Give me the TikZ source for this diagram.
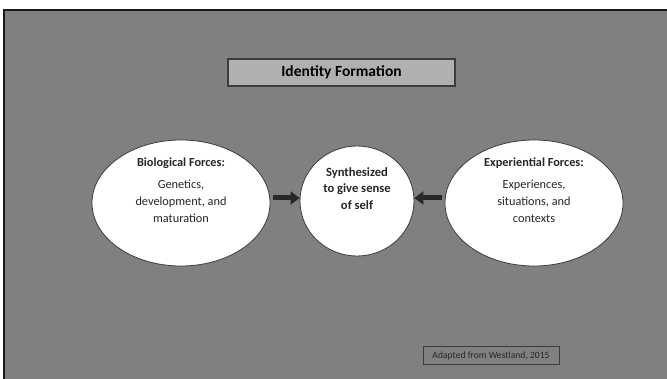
\documentclass[tikz,border=0pt]{standalone}
\usepackage{fontspec}
\setmainfont{Carlito}
\usepackage{xcolor}
\usetikzlibrary{arrows.meta,shapes.geometric}
\definecolor{bggray}{HTML}{808080}
\definecolor{boxgray}{HTML}{B0B0B0}
\definecolor{edgegray}{HTML}{3C3C3C}
\definecolor{arrowgray}{HTML}{282828}

\begin{document}
\begin{tikzpicture}[x=1pt,y=-1pt,>=Stealth,
force/.style={ellipse,draw=edgegray,fill=white,line width=0.8pt,inner sep=0pt},
bodytext/.style={align=center,font=\fontsize{12.3}{17}\selectfont,text=black!85},
fat/.style={line width=5pt,arrowgray,-{Triangle[length=9pt,width=13pt]},shorten <=3pt}]
\useasboundingbox(0,0)rectangle(667,379);
\fill[white](0,0)rectangle(667,379);
\fill[bggray](4,10)rectangle(667,379);
\draw[line width=2.5pt,black!90](4,379)--(4,10)--(667,10);
% title
\node[draw=edgegray,fill=boxgray,line width=1.2pt,minimum width=227pt,minimum height=27pt,
font=\bfseries\fontsize{15.5}{17}\selectfont](title) at (341.5,72.5){Identity Formation};
% the three ellipses
\node[force,minimum width=178pt,minimum height=126pt](bio) at (181,203){};
\node[force,minimum width=114pt,minimum height=110pt](self) at (357,201){};
\node[force,minimum width=178pt,minimum height=126pt](exp) at (534,203){};
\node[bodytext,anchor=north](biotext) at (181,154){\textbf{Biological Forces:}\\[5pt]Genetics,\\development, and\\maturation};
\node[bodytext,anchor=north](exptext) at (534,154){\textbf{Experiential Forces:}\\[5pt]Experiences,\\situations, and\\contexts};
\node[bodytext,anchor=north,font=\bfseries\fontsize{12.6}{16.5}\selectfont](selftext) at (357,164){Synthesized\\to give sense\\of self};
\draw[fat](bio.east|-0,198)--(self.west|-0,198);
\draw[fat](exp.west|-0,198)--(self.east|-0,198);
% source
\node[draw=edgegray,line width=1pt,minimum width=136pt,minimum height=18pt,
font=\fontsize{9.6}{11}\selectfont,text=black!85](src) at (491,356){Adapted from Westland, 2015};
\end{tikzpicture}
\end{document}
